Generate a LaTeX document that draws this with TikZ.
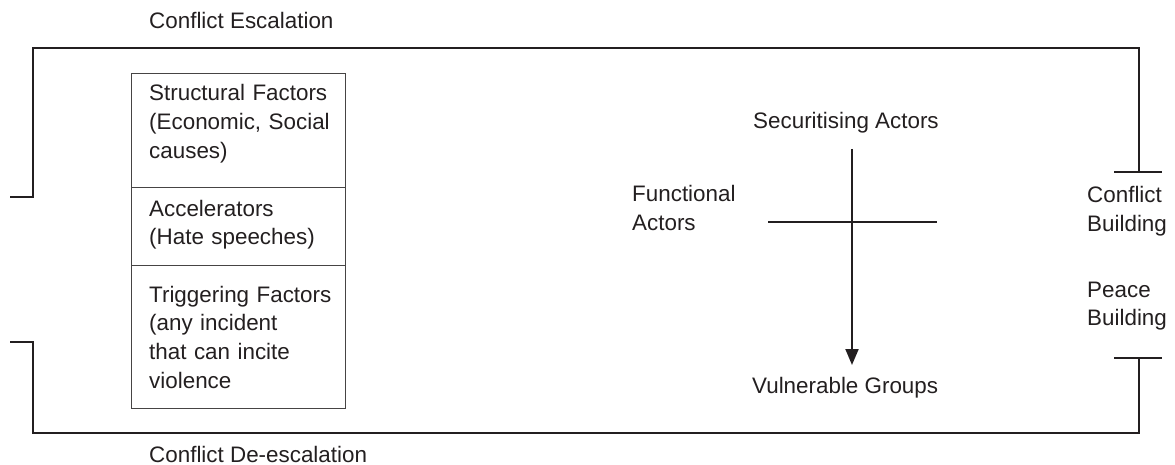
\documentclass[tikz,border=0pt]{standalone}
\usepackage{fontspec}
\setmainfont{Liberation Sans}
\usetikzlibrary{arrows.meta}
\definecolor{ink}{RGB}{35,31,32}
\definecolor{boxline}{RGB}{70,68,68}
\newcommand{\labelfont}{\fontsize{22.4}{28.7}\selectfont}
\begin{document}
\begin{tikzpicture}[x=1pt,y=-1pt,
  lbl/.style={anchor=base west,inner sep=0pt,font=\labelfont,text=ink},
  mlbl/.style={lbl,text width=200pt,align=left},
  frame/.style={draw=ink,line width=2.6pt},
  bar/.style={draw=ink,line width=2.2pt},
  axis/.style={draw=ink,line width=2pt},
  cell/.style={draw=boxline,line width=1.3pt,rectangle,inner sep=0pt,minimum width=214pt,anchor=north west}]
\useasboundingbox (0,0) rectangle (1175,465);

% outer path labels
\node[lbl] (esc) at (149,29) {Conflict Escalation};
\node[lbl] (desc) at (149,462) {Conflict De-escalation};

% upper and lower frame lines
\coordinate (ul0) at (10,197);
\coordinate (ul1) at (33,197);
\coordinate (ul2) at (33,48);
\coordinate (ur2) at (1139,48);
\coordinate (ur1) at (1139,172);
\coordinate (ll0) at (10,342);
\coordinate (ll1) at (33,342);
\coordinate (ll2) at (33,433);
\coordinate (lr2) at (1139,433);
\coordinate (lr1) at (1139,358);
\draw[frame] (ul0) -- (ul1) -- (ul2) -- (ur2) -- (ur1);
\draw[frame] (ll0) -- (ll1) -- (ll2) -- (lr2) -- (lr1);

% end bars
\coordinate (ubl) at (1114,172);
\coordinate (ubr) at (1162,172);
\coordinate (lbl) at (1114,358);
\coordinate (lbr) at (1162,358);
\draw[bar] (ubl) -- (ubr);
\draw[bar] (lbl) -- (lbr);

% factor stack
\node[cell,minimum height=114pt] (c1) at (131,73) {};
\node[cell,minimum height=78pt] (c2) at (131,187) {};
\node[cell,minimum height=143pt] (c3) at (131,265) {};
\node[mlbl] (t1) at (149,101) {Structural Factors\\(Economic, Social\\causes)};
\node[mlbl] (t2) at (149,216) {Accelerators\\(Hate speeches)};
\node[mlbl] (t3) at (149,302) {Triggering Factors\\(any incident\\that can incite\\violence};

% actors
\node[lbl] (sec) at (753,129) {Securitising Actors};
\node[mlbl] (fun) at (632,202) {Functional\\Actors};
\node[lbl] (vul) at (752,393) {Vulnerable Groups};
\coordinate (vtop) at (852,149);
\coordinate (vtip) at (852,365);
\coordinate (hl) at (768,222);
\coordinate (hr) at (937,222);
\draw[axis,-{Triangle[length=16pt,width=13pt]}] (vtop) -- (vtip);
\draw[axis] (hl) -- (hr);

% building labels
\node[mlbl] (cb) at (1087,203) {Conflict\\Building};
\node[mlbl] (pb) at (1087,297) {Peace\\Building};
\end{tikzpicture}
\end{document}
